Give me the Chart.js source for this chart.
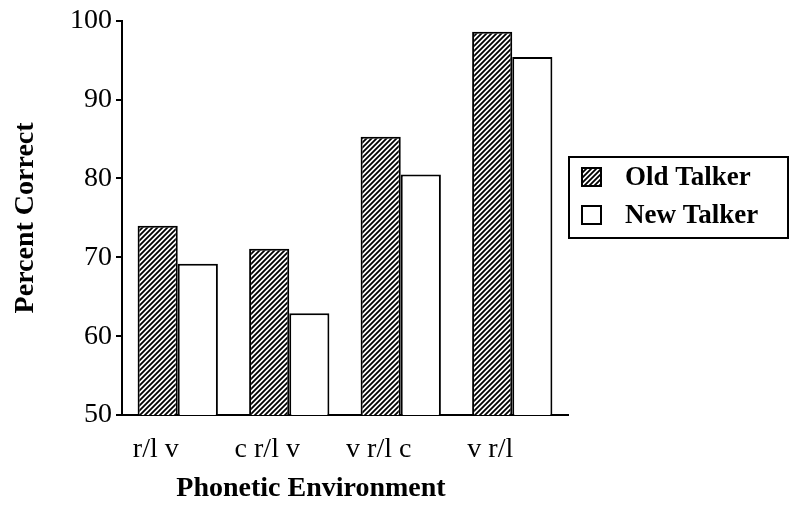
<!DOCTYPE html>
<html>
<head>
<meta charset="utf-8">
<script src="https://cdn.jsdelivr.net/npm/chart.js"></script>
<style>
  html, body { margin: 0; padding: 0; background: #fff; }
  #wrap { width: 800px; height: 510px; }
</style>
</head>
<body>
<div id="wrap"><canvas id="grafik" width="800" height="510"></canvas></div>
<script>
// Veriler (resimden okunan yaklaşık değerler)
const kategoriler = ['r/l v', 'c r/l v', 'v r/l c', 'v r/l'];
const seriAdlari = ['Old Talker', 'New Talker'];
const eskiKonusmaci = [74.0, 71.1, 85.3, 98.6];
const yeniKonusmaci = [69.2, 62.9, 80.5, 95.4];
const yTikler = [50, 60, 70, 80, 90, 100];

const yaziTipi = '"Liberation Serif", "Times New Roman", serif';

// Çapraz taralı desen ("/" yönünde)
function taramaDeseni() {
  const s = 5;
  const c = document.createElement('canvas');
  c.width = s; c.height = s;
  const g = c.getContext('2d');
  g.fillStyle = '#fff';
  g.fillRect(0, 0, s, s);
  g.strokeStyle = '#000';
  g.lineWidth = 1.8;
  g.beginPath();
  g.moveTo(-1, s + 1); g.lineTo(s + 1, -1);
  g.moveTo(-1, 1); g.lineTo(1, -1);
  g.moveTo(s - 1, s + 1); g.lineTo(s + 1, s - 1);
  g.stroke();
  return g.createPattern(c, 'repeat');
}
const desen = taramaDeseni();

// Kutulu özel gösterge ve x ekseni başlığı
const ozelCizim = {
  id: 'ozelCizim',
  afterDraw(chart) {
    const ctx = chart.ctx;
    const alan = chart.chartArea;
    ctx.save();
    // x ekseni başlığı
    ctx.fillStyle = '#000';
    ctx.font = 'bold 28px ' + yaziTipi;
    ctx.textAlign = 'center';
    ctx.textBaseline = 'middle';
    ctx.fillText('Phonetic Environment', 311, 489);

    // ana eksen çizgisini biraz sola uzat
    ctx.strokeStyle = '#000';
    ctx.lineWidth = 2;
    ctx.beginPath();
    ctx.moveTo(alan.left - 6, alan.bottom);
    ctx.lineTo(alan.left, alan.bottom);
    ctx.stroke();

    // gösterge kutusu
    const gx = alan.right + 1, gy = 157, gw = 219, gh = 81;
    ctx.strokeRect(gx, gy, gw, gh);
    const ds = chart.data.datasets;
    const satirY = [177, 215];
    ds.forEach((d, i) => {
      const sx = gx + 13, sy = satirY[i] - 9;
      ctx.fillStyle = d.backgroundColor;
      ctx.fillRect(sx, sy, 19, 18);
      ctx.lineWidth = 2;
      ctx.strokeRect(sx, sy, 19, 18);
      ctx.fillStyle = '#000';
      ctx.font = 'bold 27px ' + yaziTipi;
      ctx.textAlign = 'left';
      ctx.fillText(d.label, gx + 56, satirY[i] + 1);
    });
    ctx.restore();
  }
};

const ctx = document.getElementById('grafik').getContext('2d');
new Chart(ctx, {
  type: 'bar',
  data: {
    labels: kategoriler,
    datasets: [
      {
        label: seriAdlari[0],
        data: eskiKonusmaci,
        backgroundColor: desen,
        borderColor: '#000',
        borderWidth: 2,
        borderSkipped: 'bottom'
      },
      {
        label: seriAdlari[1],
        data: yeniKonusmaci,
        backgroundColor: '#fff',
        borderColor: '#000',
        borderWidth: 2,
        borderSkipped: 'bottom'
      }
    ]
  },
  options: {
    responsive: false,
    animation: false,
    layout: { padding: { left: 9, top: 15, right: 232, bottom: 0 } },
    plugins: {
      legend: { display: false },
      tooltip: { enabled: false }
    },
    datasets: {
      bar: { categoryPercentage: 0.72, barPercentage: 1.0 }
    },
    scales: {
      x: {
        grid: { display: false },
        border: { display: true, color: '#000', width: 2 },
        ticks: {
          color: '#000',
          font: { family: yaziTipi, size: 28 },
          padding: 10,
          labelOffset: -22,
          maxRotation: 0
        },
        afterFit(scale) { scale.height = 95; }
      },
      y: {
        min: 50,
        max: 100,
        afterBuildTicks(scale) { scale.ticks = yTikler.map(v => ({ value: v })); },
        grid: {
          drawOnChartArea: false,
          drawTicks: true,
          tickLength: 6,
          color: '#000',
          lineWidth: 2
        },
        border: { display: true, color: '#000', width: 2 },
        ticks: {
          color: '#000',
          font: { family: yaziTipi, size: 28 },
          padding: 4
        },
        title: {
          display: true,
          text: 'Percent Correct',
          color: '#000',
          font: { family: yaziTipi, size: 28, weight: 'bold' },
          padding: { top: 0, bottom: 8 }
        },
        afterFit(scale) { scale.width = 113; }
      }
    }
  },
  plugins: [ozelCizim]
});
</script>
</body>
</html>
